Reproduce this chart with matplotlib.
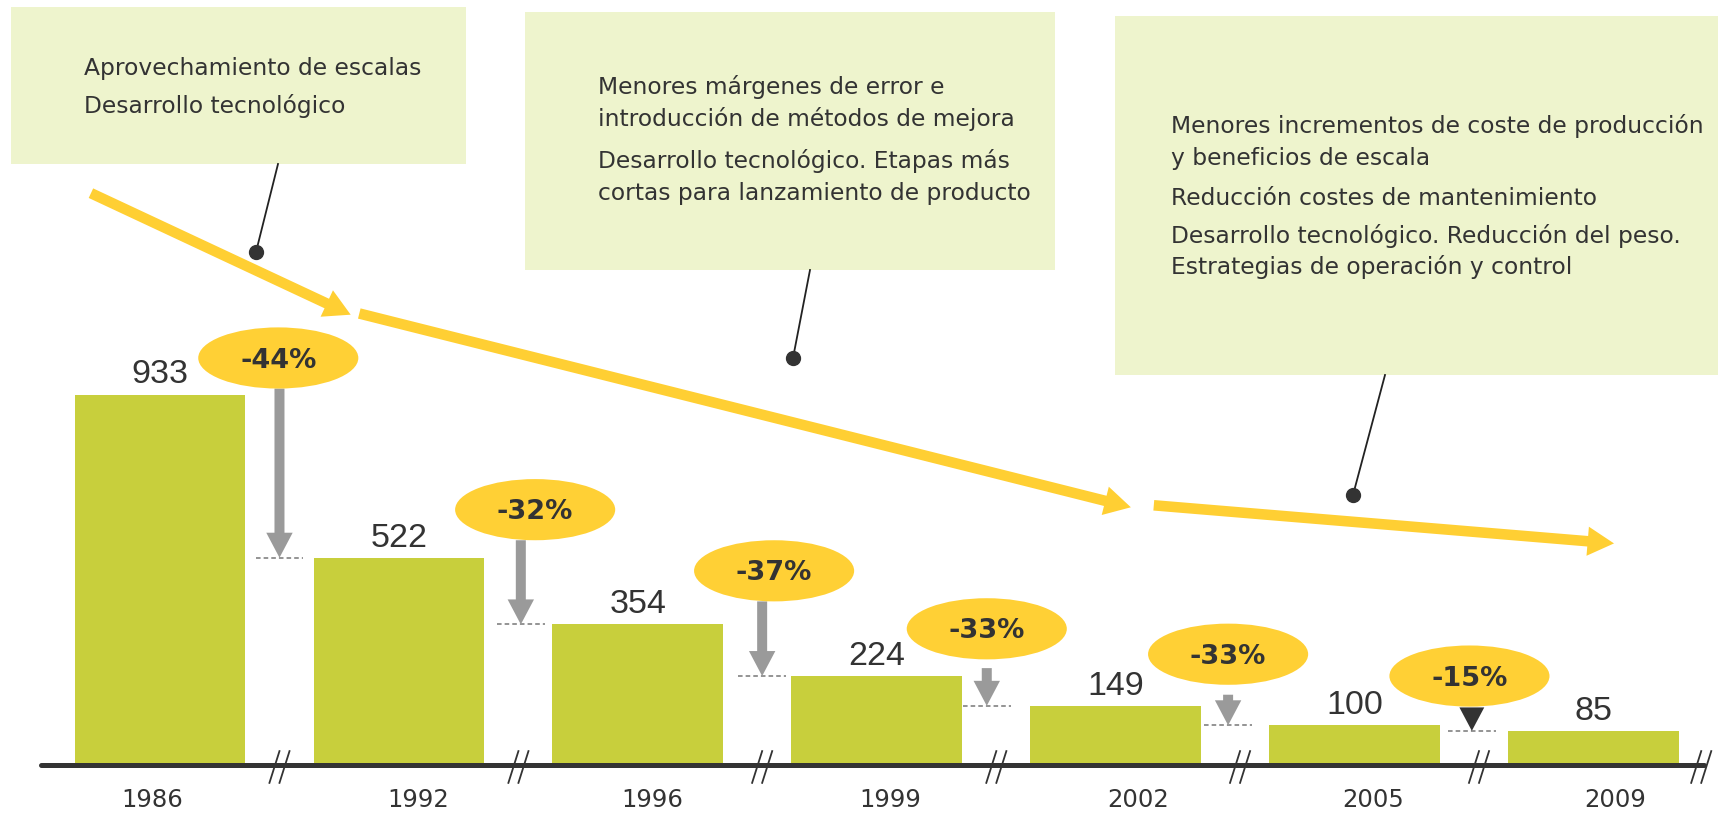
import matplotlib
matplotlib.use('Agg')
import matplotlib.pyplot as plt
from matplotlib.patches import Ellipse, Rectangle, Polygon

# ---------------- data ----------------
years = ['1986', '1992', '1996', '1999', '2002', '2005', '2009']
values = [933, 522, 354, 224, 149, 100, 85]
pct_labels = ['-44%', '-32%', '-37%', '-33%', '-33%', '-15%']
notes_1 = ['Aprovechamiento de escalas', 'Desarrollo tecnológico']
notes_2 = ['Menores márgenes de error e', 'introducción de métodos de mejora',
           'Desarrollo tecnológico. Etapas más', 'cortas para lanzamiento de producto']
notes_3 = ['Menores incrementos de coste de producción', 'y beneficios de escala',
           'Reducción costes de mantenimiento', 'Desarrollo tecnológico. Reducción del peso.',
           'Estrategias de operación y control']

# ---------------- layout ----------------
W, H = 1718, 814
X0, DX, Y0, PXU = 160.0, 238.95, 765.0, 0.3971   # px of bar0 centre, px per bar, baseline px, px per unit

BAR_C = '#C8CF3C'
BOX_C = '#EEF4CD'
ELL_C = '#FFD035'
YEL_C = '#FFCF33'
GRAY = '#9A9A9A'
DARK = '#333333'

fig = plt.figure(figsize=(W / 100, H / 100), dpi=100)
ax = fig.add_axes([0, 0, 1, 1])
ax.set_xlim(-X0 / DX, (W - X0) / DX)
ax.set_ylim(-(H - Y0) / PXU, Y0 / PXU)
ax.axis('off')


def fx(px):
    return px / W


def fy(py):
    return 1 - py / H


xs = list(range(len(values)))
ax.bar(xs, values, width=0.715, color=BAR_C, zorder=2)

# baseline
ax.plot([-0.5, 6.46], [0, 0], color=DARK, lw=3.6, solid_capstyle='round', zorder=3)
# axis break marks
for bx in [0.5, 1.5, 2.52, 3.5, 4.52, 5.52, 6.45]:
    for off in (-0.021, 0.021):
        ax.plot([bx + off - 0.021, bx + off + 0.021], [-45, 35], color=DARK, lw=1.3, zorder=4)

# year labels
year_off = [-0.033, 0.082, 0.059, 0.056, 0.092, 0.075, 0.092]
for i, y in enumerate(years):
    ax.text(i + year_off[i], -107, y, ha='center', va='baseline', fontsize=17.5,
            family='DejaVu Sans', color=DARK)

# value labels
for i, v in enumerate(values):
    ax.text(i, v + 28, str(v), ha='center', va='baseline', fontsize=24.5,
            family='Liberation Sans', color=DARK)

# ellipses with percentages
ell_x = [0.495, 1.57, 2.57, 3.46, 4.47, 5.48]
ell_off = [92, 121, 135, 119, 130, 124]
arr_x = [0.50, 1.51, 2.52, 3.46, 4.47, 5.49]
arr_gap = [0, 0, 0, 22, 25]
for k, lab in enumerate(pct_labels):
    cy = values[k] + ell_off[k]
    ax.add_patch(Ellipse((ell_x[k], cy), 0.67, 154, color=ELL_C, zorder=5, lw=0))
    ax.text(ell_x[k], cy - 24, lab, ha='center', va='baseline', fontsize=19.5,
            family='DejaVu Sans', fontweight='bold', color=DARK, zorder=6)
    nxt = values[k + 1]
    ax.plot([arr_x[k] - 0.1, arr_x[k] + 0.1], [nxt, nxt], color='#777777', lw=1.1,
            ls=(0, (3, 2)), zorder=3)
    if k < 5:
        start = cy - 77 - arr_gap[k]
        ax.annotate('', xy=(arr_x[k], nxt), xytext=(arr_x[k], start),
                    arrowprops=dict(arrowstyle='simple,head_length=0.9,head_width=0.95,tail_width=0.36',
                                    mutation_scale=20, color=GRAY, lw=0,
                                    shrinkA=0, shrinkB=0), zorder=4)
    else:
        ax.add_patch(Polygon([(arr_x[k] - 0.052, nxt + 60), (arr_x[k] + 0.052, nxt + 60),
                              (arr_x[k], nxt + 1)], closed=True, color=DARK, zorder=6, lw=0))

# yellow trend arrows
trend = [((-0.289, 1440), (0.798, 1134)),
         ((0.834, 1137), (4.063, 649)),
         ((4.159, 654), (6.085, 558))]
for (s, e) in trend:
    ax.annotate('', xy=e, xytext=s,
                arrowprops=dict(arrowstyle='simple,head_length=0.95,head_width=1.05,tail_width=0.38',
                                mutation_scale=20, color=YEL_C, lw=0, shrinkA=0, shrinkB=0),
                zorder=3)

# note boxes
boxes = [(11, 7, 466, 164), (525, 12, 1055, 270), (1115, 16, 1718, 375)]
for (x1, y1, x2, y2) in boxes:
    ax.add_patch(Rectangle((fx(x1), fy(y2)), fx(x2) - fx(x1), (y2 - y1) / H,
                           transform=fig.transFigure, color=BOX_C, lw=0, zorder=1))

text_x = [84, 598, 1171]
baselines = [[75, 113], [94, 126, 168, 200], [133, 165, 205, 243, 274]]
for tx, bls, lines in zip(text_x, baselines, [notes_1, notes_2, notes_3]):
    for bl, line in zip(bls, lines):
        ax.text(fx(tx), fy(bl), line, transform=fig.transFigure, ha='left', va='baseline',
                fontsize=16.8, family='DejaVu Sans', color=DARK, zorder=7)

# connectors with dots
connectors = [((278, 164), (256, 252)), ((810, 270), (793, 358)), ((1385, 375), (1353, 495))]
for (a, b) in connectors:
    ax.plot([fx(a[0]), fx(b[0])], [fy(a[1]), fy(b[1])], color='#222222', lw=1.3,
            transform=fig.transFigure, zorder=7)
    ax.plot([fx(b[0])], [fy(b[1])], 'o', ms=10, color=DARK, transform=fig.transFigure, zorder=8)

fig.savefig('out.png', dpi=100, facecolor='white')
